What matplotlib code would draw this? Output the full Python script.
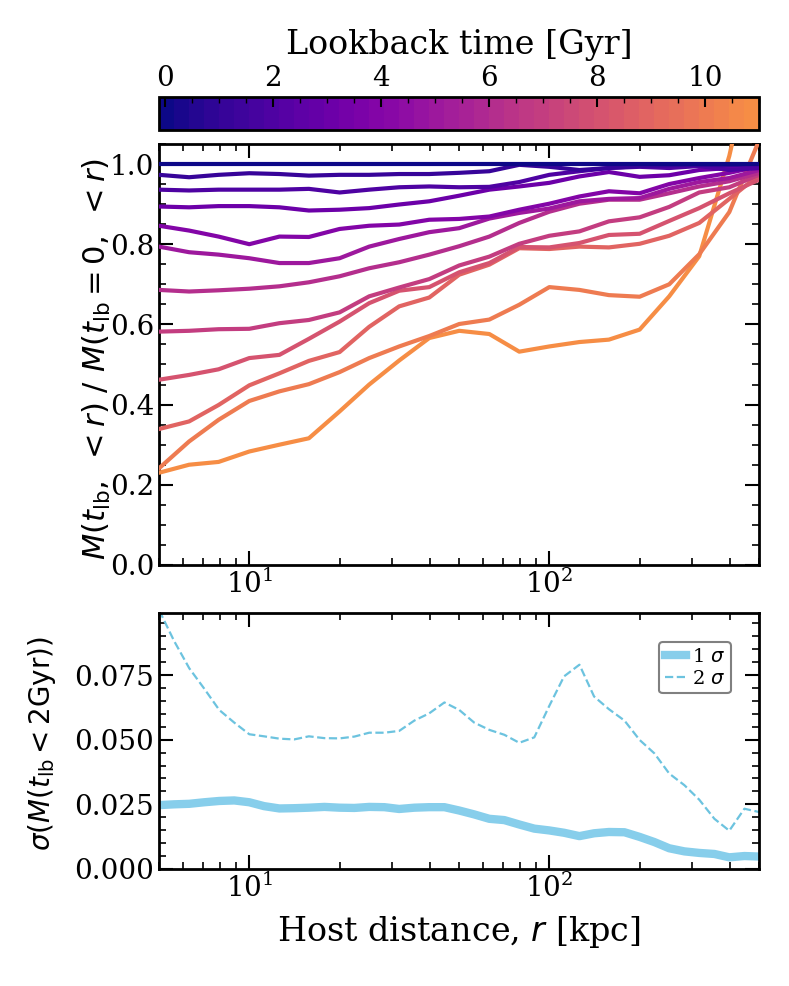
import numpy as np
import matplotlib
matplotlib.use("Agg")
import matplotlib.pyplot as plt
from matplotlib.colors import ListedColormap, Normalize
from matplotlib.cm import ScalarMappable
from matplotlib.ticker import MultipleLocator

plt.rcParams['font.family'] = 'DejaVu Serif'
plt.rcParams['mathtext.fontset'] = 'dejavusans'

# ---- top panel data: M(t_lb, <r) / M(t_lb=0, <r) ----
r_top = [5.0, 6.3, 7.9, 10.0, 12.6, 15.8, 20.0, 25.1, 31.6, 39.8, 50.1,
         63.1, 79.4, 100.0, 126.0, 158.0, 200.0, 251.0, 316.0, 398.0, 501.0]
t_lookback = [0, 1, 2, 3, 4, 5, 6, 7, 8, 9, 10, 11]

frac_t0 = [1.0] * 21
frac_t1 = [0.973, 0.967, 0.973, 0.977, 0.975, 0.971, 0.973, 0.973, 0.975, 0.975, 0.978,
           0.982, 0.998, 0.993, 0.985, 0.990, 0.995, 0.997, 0.998, 0.997, 1.0]
frac_t2 = [0.936, 0.934, 0.936, 0.936, 0.936, 0.938, 0.929, 0.936, 0.942, 0.944, 0.942,
           0.943, 0.955, 0.973, 0.982, 0.990, 0.993, 0.990, 0.995, 0.985, 0.990]
frac_t3 = [0.894, 0.892, 0.895, 0.895, 0.892, 0.884, 0.886, 0.890, 0.899, 0.907, 0.921,
           0.936, 0.944, 0.953, 0.969, 0.980, 0.968, 0.972, 0.985, 0.990, 0.990]
frac_t4 = [0.846, 0.834, 0.819, 0.800, 0.819, 0.818, 0.838, 0.846, 0.849, 0.861, 0.863,
           0.869, 0.886, 0.901, 0.919, 0.932, 0.927, 0.950, 0.965, 0.978, 0.994]
frac_t5 = [0.794, 0.780, 0.774, 0.765, 0.753, 0.753, 0.765, 0.794, 0.813, 0.830, 0.840,
           0.864, 0.878, 0.889, 0.907, 0.913, 0.915, 0.938, 0.955, 0.965, 0.985]
frac_t6 = [0.686, 0.682, 0.685, 0.689, 0.695, 0.705, 0.720, 0.740, 0.755, 0.774, 0.795,
           0.819, 0.853, 0.881, 0.901, 0.911, 0.911, 0.927, 0.944, 0.957, 0.978]
frac_t7 = [0.582, 0.584, 0.588, 0.589, 0.603, 0.611, 0.630, 0.670, 0.692, 0.713, 0.747,
           0.769, 0.801, 0.821, 0.832, 0.857, 0.867, 0.893, 0.929, 0.942, 0.973]
frac_t8 = [0.462, 0.474, 0.488, 0.516, 0.524, 0.564, 0.607, 0.653, 0.684, 0.693, 0.730,
           0.753, 0.793, 0.792, 0.803, 0.823, 0.826, 0.858, 0.890, 0.927, 0.961]
frac_t9 = [0.339, 0.358, 0.399, 0.448, 0.478, 0.509, 0.531, 0.594, 0.645, 0.667, 0.724,
           0.749, 0.790, 0.788, 0.794, 0.792, 0.801, 0.821, 0.853, 0.913, 0.973]
frac_t10 = [0.241, 0.308, 0.362, 0.409, 0.433, 0.451, 0.481, 0.516, 0.545, 0.571, 0.601,
            0.612, 0.649, 0.693, 0.686, 0.673, 0.669, 0.700, 0.775, 0.880, 1.060]
frac_t11 = [0.230, 0.250, 0.257, 0.283, 0.300, 0.316, 0.383, 0.450, 0.510, 0.566, 0.584,
            0.576, 0.532, 0.545, 0.556, 0.562, 0.587, 0.670, 0.770, 1.020, 1.350]
all_frac = [frac_t0, frac_t1, frac_t2, frac_t3, frac_t4, frac_t5, frac_t6,
            frac_t7, frac_t8, frac_t9, frac_t10, frac_t11]

# ---- bottom panel data: scatter of M(t_lb < 2 Gyr) ----
r_bot = [5.01, 5.62, 6.31, 7.08, 7.94, 8.91, 10.0, 11.2, 12.6, 14.1, 15.8, 17.8, 20.0,
         22.4, 25.1, 28.2, 31.6, 35.5, 39.8, 44.7, 50.1, 56.2, 63.1, 70.8, 79.4, 89.1,
         100.0, 112.0, 126.0, 141.0, 158.0, 178.0, 200.0, 224.0, 251.0, 282.0, 316.0,
         355.0, 398.0, 447.0, 501.0]
sigma1 = [0.0247, 0.0250, 0.0252, 0.0258, 0.0263, 0.0265, 0.0258, 0.0243, 0.0234, 0.0235,
          0.0237, 0.0240, 0.0237, 0.0236, 0.0240, 0.0239, 0.0232, 0.0237, 0.0239, 0.0239,
          0.0226, 0.0211, 0.0194, 0.0189, 0.0172, 0.0156, 0.0149, 0.0140, 0.0127, 0.0138,
          0.0143, 0.0142, 0.0124, 0.0104, 0.0080, 0.0068, 0.0062, 0.0058, 0.0045, 0.0050,
          0.0048]
sigma2 = [0.1000, 0.0881, 0.0776, 0.0697, 0.0615, 0.0566, 0.0521, 0.0513, 0.0504, 0.0501,
          0.0513, 0.0506, 0.0505, 0.0512, 0.0527, 0.0527, 0.0534, 0.0574, 0.0602, 0.0644,
          0.0615, 0.0566, 0.0538, 0.0519, 0.0488, 0.0509, 0.0631, 0.0745, 0.0790, 0.0667,
          0.0618, 0.0574, 0.0499, 0.0447, 0.0369, 0.0324, 0.0268, 0.0194, 0.0148, 0.0233,
          0.0220]

# colour map: truncated, stepped plasma
cmap = ListedColormap(plt.cm.plasma(np.linspace(0.0, 0.73, 40)))
norm = Normalize(vmin=-0.12, vmax=11.0)

fig = plt.figure(figsize=(7.89, 9.86), dpi=100)
cax = fig.add_axes([0.2015, 0.8682, 0.7605, 0.0335])
ax1 = fig.add_axes([0.2015, 0.4270, 0.7605, 0.4270])
ax2 = fig.add_axes([0.2015, 0.1187, 0.7605, 0.2596])

for t, frac in zip(t_lookback, all_frac):
    ax1.plot(r_top, frac, color=cmap(norm(t)), lw=3, zorder=20 - t)

ax2.plot(r_bot, sigma1, color='skyblue', lw=6, label=r'1 $\sigma$')
ax2.plot(r_bot, sigma2, color='#6cc3df', lw=1.6, ls='--', label=r'2 $\sigma$')

for ax in (ax1, ax2):
    ax.set_xscale('log')
    ax.set_xlim(5, 500)
    ax.tick_params(which='both', direction='in', top=True, right=True, labelsize=20)
    ax.tick_params(which='major', length=10, width=1.5)
    ax.tick_params(which='minor', length=5, width=1.2)
    for sp in ax.spines.values():
        sp.set_linewidth(2)

ax1.set_ylim(0, 1.05)
ax1.yaxis.set_major_locator(MultipleLocator(0.2))
ax1.yaxis.set_minor_locator(MultipleLocator(0.05))
ax1.set_ylabel(r'$M(t_{\rm lb},\ <r)\ /\ M(t_{\rm lb}=0,\ <r)$', fontsize=22)
ax1.yaxis.set_label_coords(-0.077, 0.49)

ax2.set_ylim(0, 0.099)
ax2.yaxis.set_major_locator(MultipleLocator(0.025))
ax2.yaxis.set_minor_locator(MultipleLocator(0.005))
ax2.set_ylabel(r'$\sigma(M(t_{\rm lb} < 2{\rm Gyr}))$', fontsize=20)
ax2.yaxis.set_label_coords(-0.168, 0.49)
ax2.set_xlabel(r'Host distance, $r$ [kpc]', fontsize=24, labelpad=8)
leg = ax2.legend(loc='upper right', bbox_to_anchor=(0.97, 0.925), fontsize=14,
                 handlelength=1.1, handletextpad=0.3, borderpad=0.3, labelspacing=0.2,
                 fancybox=True, edgecolor='gray', framealpha=1)
leg.get_frame().set_linewidth(1.5)

sm = ScalarMappable(norm=norm, cmap=cmap)
cb = fig.colorbar(sm, cax=cax, orientation='horizontal')
cax.xaxis.set_ticks_position('top')
cax.xaxis.set_label_position('top')
cb.set_ticks([0, 2, 4, 6, 8, 10])
cax.xaxis.set_minor_locator(MultipleLocator(0.5))
cax.tick_params(which='both', direction='in', labelsize=20, bottom=False)
cax.tick_params(which='major', length=7, width=1.5)
cax.tick_params(which='minor', length=4, width=1)
cb.outline.set_linewidth(2)
cb.set_label('Lookback time [Gyr]', fontsize=24, labelpad=8)

fig.savefig('out.png', dpi=100)
